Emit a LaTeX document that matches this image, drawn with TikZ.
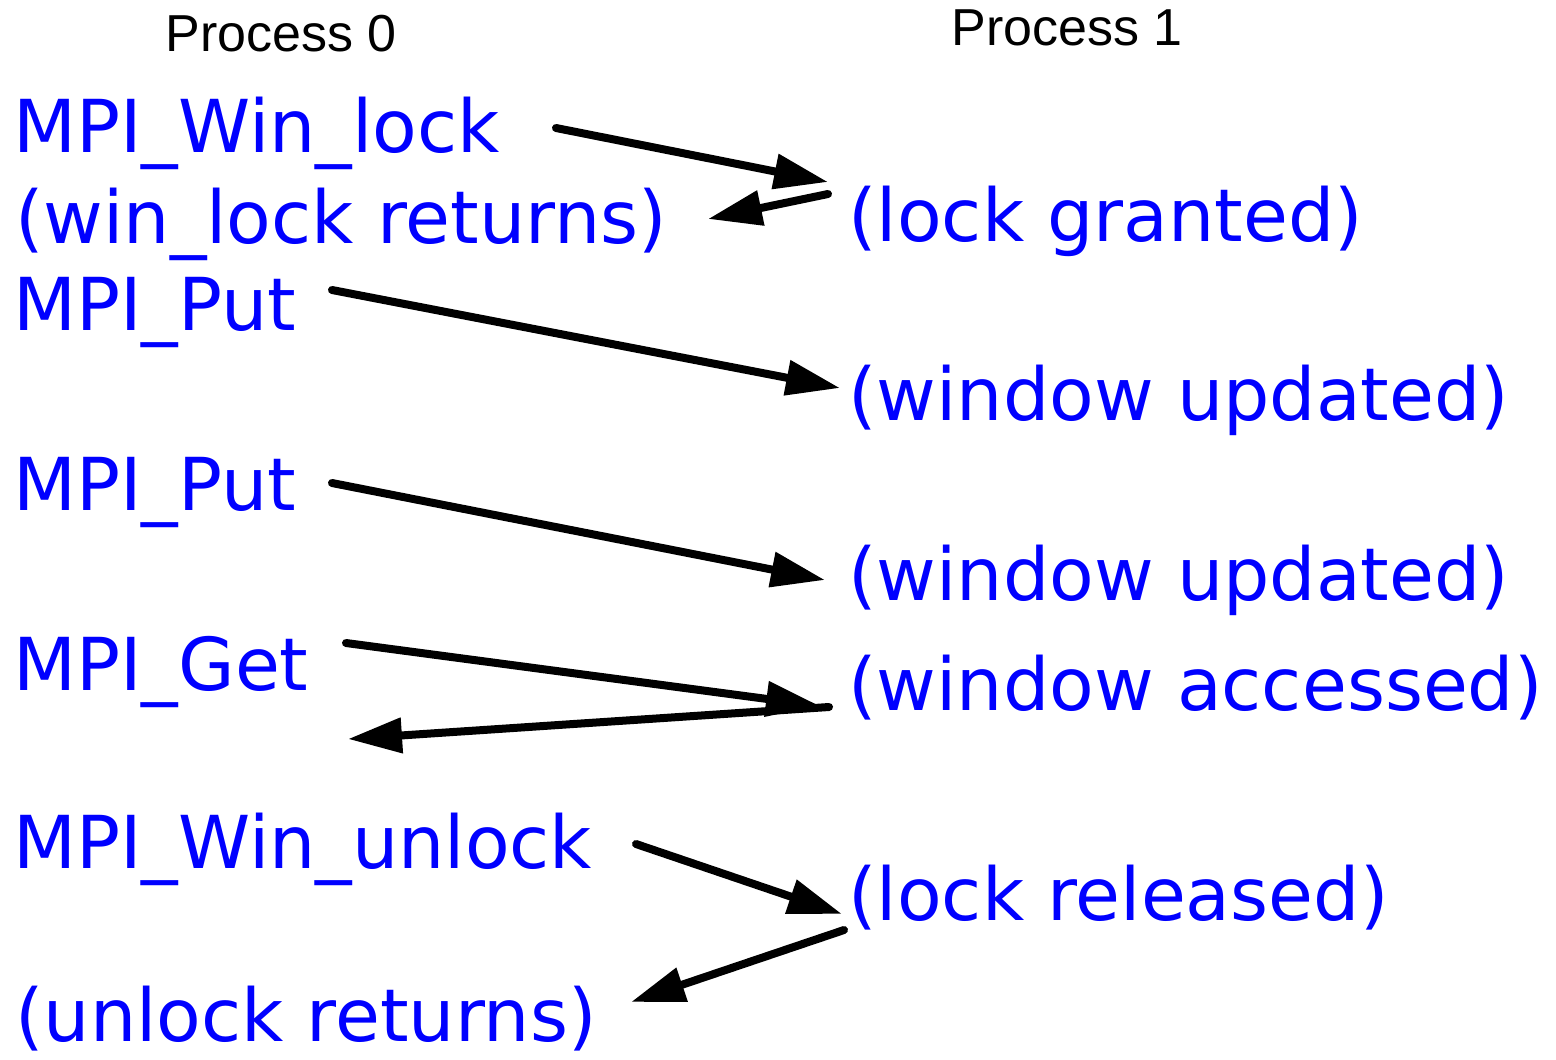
\documentclass[tikz,border=0pt]{standalone}
\usepackage{fontspec}
\setmainfont{DejaVu Sans}
\newfontfamily\headfont{Liberation Sans}
\usetikzlibrary{arrows.meta,positioning}
\definecolor{callblue}{RGB}{0,0,255}
\tikzset{
	head/.style={anchor=base west,inner sep=0pt,font=\headfont\fontsize{26pt}{26pt}\selectfont},
	call/.style={anchor=base west,inner sep=0pt,text=callblue,font=\fontsize{36.5pt}{36.5pt}\selectfont},
	msg/.style={line width=4pt,line cap=round,-{Triangle[length=27pt,width=17pt]}}
}
\begin{document}
\begin{tikzpicture}[x=0.5pt,y=-0.5pt]
	\useasboundingbox (0,0) rectangle (1556,1059);
	\node (proc0) [head] at (165,52) {Process 0};
	\node (proc1) [head] at (951,46) {Process 1};
	\node (winlock) [call] at (13,153) {MPI\_Win\_lock};
	\node (lockret) [call] at (15,243) {(win\_lock returns)};
	\node (granted) [call] at (848,242) {(lock granted)};
	\node (putA) [call] at (13,330) {MPI\_Put};
	\node (updA) [call] at (848,420) {(window updated)};
	\node (putB) [call] at (13,510) {MPI\_Put};
	\node (updB) [call] at (848,600) {(window updated)};
	\node (get) [call] at (13,690) {MPI\_Get};
	\node (access) [call] at (848,710) {(window accessed)};
	\node (unlock) [call] at (13,868) {MPI\_Win\_unlock};
	\node (released) [call] at (848,920) {(lock released)};
	\node (unlockret) [call] at (15,1041) {(unlock returns)};
	\coordinate (lockreqA) at (556,128);
	\coordinate (lockreqB) at (828,182);
	\coordinate (grantA) at (828,194);
	\coordinate (grantB) at (708,219);
	\coordinate (putAa) at (332,290);
	\coordinate (putAb) at (840,388);
	\coordinate (putBa) at (332,483);
	\coordinate (putBb) at (825,580);
	\coordinate (getA) at (346,643);
	\coordinate (getB) at (820,706);
	\coordinate (dataA) at (829,707);
	\coordinate (dataB) at (348,739);
	\coordinate (relA) at (636,844);
	\coordinate (relB) at (842,914);
	\coordinate (ackA) at (844,930);
	\coordinate (ackB) at (631,1002);
	\draw [msg] (lockreqA) -- (lockreqB);
	\draw [msg] (grantA) -- (grantB);
	\draw [msg] (putAa) -- (putAb);
	\draw [msg] (putBa) -- (putBb);
	\draw [msg] (getA) -- (getB);
	\draw [msg] (dataA) -- (dataB);
	\draw [msg] (relA) -- (relB);
	\draw [msg] (ackA) -- (ackB);
\end{tikzpicture}
\end{document}
